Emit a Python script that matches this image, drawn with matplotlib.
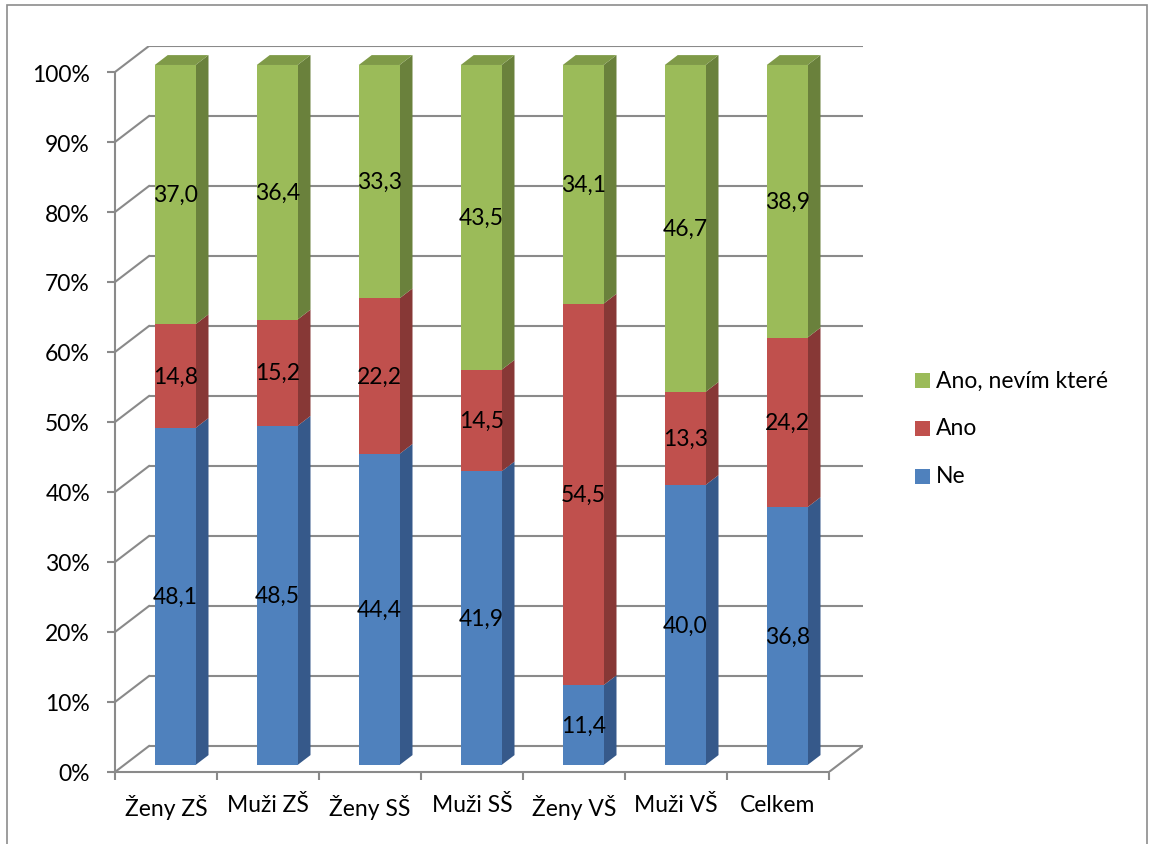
import matplotlib
matplotlib.use("Agg")
import matplotlib.pyplot as plt
from matplotlib.patches import Polygon, Rectangle
from matplotlib.ticker import FixedLocator, FuncFormatter

plt.rcParams['font.family'] = ['Lato', 'DejaVu Sans']

# --- data -------------------------------------------------------------
categories = ["Ženy ZŠ", "Muži ZŠ", "Ženy SŠ", "Muži SŠ", "Ženy VŠ", "Muži VŠ", "Celkem"]
ne = [48.1, 48.5, 44.4, 41.9, 11.4, 40.0, 36.8]
ano = [14.8, 15.2, 22.2, 14.5, 54.5, 13.3, 24.2]
ano_nevim = [37.0, 36.4, 33.3, 43.5, 34.1, 46.7, 38.9]
series_names = ["Ne", "Ano", "Ano, nevím které"]
y_ticks = list(range(0, 101, 10))

# --- styling ----------------------------------------------------------
front_cols = ["#4F81BD", "#C0504D", "#9BBB59"]
side_cols = ["#36598A", "#873836", "#6A813C"]
top_cols = ["#45709F", "#A44643", "#7F9A48"]
grid_col = "#8A8A8A"
FS = 16.5

W, H, DPI = 1149, 845, 100
fig = plt.figure(figsize=(W / DPI, H / DPI), dpi=DPI)

# oblique depth projection (in data units per unit depth)
DX = 34 / 102.0
DY = 26 / 7.0
BAR_W = 0.40
D0, D1 = 0.27, 0.65
n = len(categories)

x0_px, x1_px = 115, 863
y0_px, y1_px = 773, 47
ax = fig.add_axes([x0_px / W, 1 - y0_px / H, (x1_px - x0_px) / W, (y0_px - y1_px) / H])
ax.set_xlim(0, n + DX)
ax.set_ylim(0, 100 + DY)
ax.patch.set_visible(False)


def P(c, v, d):
    return (c + d * DX, v + d * DY)


# back wall gridlines and side wall diagonals
for v in y_ticks:
    ax.plot([P(0, v, 1)[0], P(n, v, 1)[0]], [P(0, v, 1)[1]] * 2,
            color=grid_col, lw=1.5, zorder=1, solid_capstyle='butt')
    ax.plot([0, DX], [v, v + DY], color=grid_col, lw=1.5, zorder=1)
# floor right edge
ax.plot([n, n + DX], [0, DY], color=grid_col, lw=1.5, zorder=1)

# axes (front edges)
for s in ["top", "right"]:
    ax.spines[s].set_visible(False)
ax.spines["left"].set_bounds(0, 100)
ax.spines["bottom"].set_bounds(0, n)
for s in ["left", "bottom"]:
    ax.spines[s].set_color(grid_col)
    ax.spines[s].set_linewidth(1.5)
ax.yaxis.set_major_locator(FixedLocator(y_ticks))
ax.yaxis.set_major_formatter(FuncFormatter(lambda v, p: f"{int(v)}%"))
ax.tick_params(axis="y", length=6, width=1.5, color=grid_col, pad=12, labelsize=FS)
ax.xaxis.set_major_locator(FixedLocator(range(n + 1)))
ax.xaxis.set_minor_locator(FixedLocator([i + 0.5 for i in range(n)]))
ax.tick_params(axis="x", which="major", length=6, width=1.5, color=grid_col, labelbottom=False)
ax.tick_params(axis="x", which="minor", length=0, pad=16, labelsize=FS)
ax.set_xticklabels(categories, minor=True)

# stacked 3-D columns
series = [ne, ano, ano_nevim]
for i in range(n):
    total = sum(s[i] for s in series)
    cl = i + 0.5 - BAR_W / 2
    cr = i + 0.5 + BAR_W / 2
    base = 0.0
    for k, s in enumerate(series):
        top = base + s[i] / total * 100
        side = [P(cr, base, D0), P(cr, top, D0), P(cr, top, D1), P(cr, base, D1)]
        ax.add_patch(Polygon(side, closed=True, facecolor=side_cols[k], edgecolor="none", zorder=3))
        front = [P(cl, base, D0), P(cr, base, D0), P(cr, top, D0), P(cl, top, D0)]
        ax.add_patch(Polygon(front, closed=True, facecolor=front_cols[k], edgecolor="none", zorder=4))
        if k == len(series) - 1:
            lid = [P(cl, top, D0), P(cr, top, D0), P(cr, top, D1), P(cl, top, D1)]
            ax.add_patch(Polygon(lid, closed=True, facecolor=top_cols[k], edgecolor="none", zorder=4))
        cx, cy = P(i + 0.5, (base + top) / 2, D0)
        ax.text(cx, cy, f"{s[i]:.1f}".replace(".", ","), ha="center", va="center",
                fontsize=FS, color="black", zorder=6)
        base = top

# legend
leg_x, leg_y, leg_dy = 915, 381, 48
for j, k in enumerate([2, 1, 0]):
    yc = leg_y + j * leg_dy
    fig.add_artist(Rectangle((leg_x / W, 1 - (yc + 7.5) / H), 15 / W, 15 / H,
                             transform=fig.transFigure, facecolor=front_cols[k], edgecolor="none"))
    fig.text((leg_x + 21) / W, 1 - yc / H, series_names[k], ha="left", va="center", fontsize=FS)

# outer frame
fig.add_artist(Rectangle((7 / W, -0.05), (1147 - 7) / W, 1 - 6 / H + 0.05,
                         transform=fig.transFigure, facecolor="none", edgecolor="#8C8C8C", lw=1.2))

fig.savefig("out.png", dpi=DPI)
